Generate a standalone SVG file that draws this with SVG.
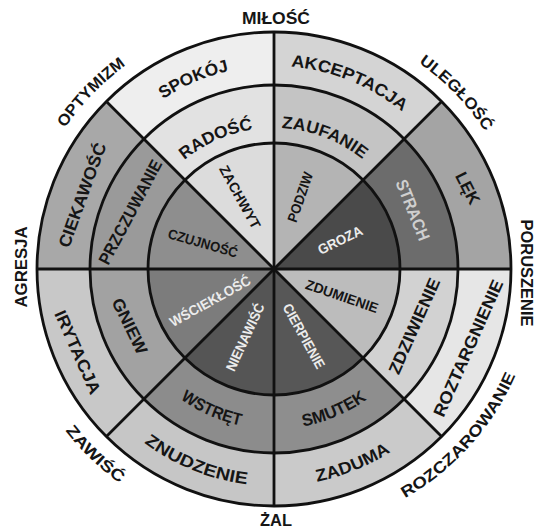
<svg xmlns="http://www.w3.org/2000/svg" xmlns:xlink="http://www.w3.org/1999/xlink" width="536" height="532" viewBox="0 0 536 532">
<defs>
<style>
text{font-family:"Liberation Sans","DejaVu Sans",sans-serif;font-weight:bold;fill:#151515;}
.o{font-size:16px;}
.r{font-size:17px;}
.i{font-size:14px;}
.lt{fill:#ececec;}
.lg{fill:#cfcfcf;}
.ln{fill:none;stroke:#111;stroke-width:2.8;}
</style>
<path id="t252" d="M55.8,143 A252,252 0 0 1 492.2,143"/>
<path id="t203" d="M98.2,167.5 A203,203 0 0 1 449.8,167.5"/>
<path id="t141" d="M151.9,198.5 A141,141 0 0 1 396.1,198.5"/>
<path id="b264" d="M45.4,401 A264,264 0 0 0 502.6,401"/>
<path id="b217" d="M86.1,377.5 A217,217 0 0 0 461.9,377.5"/>
<path id="b160" d="M135.4,349 A160,160 0 0 0 412.6,349"/>
</defs>
<rect width="536" height="532" fill="#ffffff"/>

<g id="podziw"><path d="M274,269 L274,143 A126,126 0 0 1 363.1,179.9 Z" fill="#b4b4b4"/>
<text class="i" x="300" y="197" dy="0.36em" text-anchor="middle" transform="rotate(-71 300 197)" textLength="52" lengthAdjust="spacingAndGlyphs">PODZIW</text></g>
<g id="groza"><path d="M274,269 L363.1,179.9 A126,126 0 0 1 400,269 Z" fill="#4a4a4a"/>
<text class="i lt" x="340" y="240" dy="0.36em" text-anchor="middle" transform="rotate(-26 340 240)" textLength="48" lengthAdjust="spacingAndGlyphs">GROZA</text></g>
<g id="zdumienie"><path d="M274,269 L400,269 A126,126 0 0 1 363.1,358.1 Z" fill="#bcbcbc"/>
<text class="i" x="342" y="296" dy="0.36em" text-anchor="middle" transform="rotate(19 342 296)" textLength="76" lengthAdjust="spacingAndGlyphs">ZDUMIENIE</text></g>
<g id="cierpienie"><path d="M274,269 L363.1,358.1 A126,126 0 0 1 274,395 Z" fill="#575757"/>
<text class="i lt" x="304" y="336" dy="0.36em" text-anchor="middle" transform="rotate(61 304 336)" textLength="72" lengthAdjust="spacingAndGlyphs">CIERPIENIE</text></g>
<g id="nienawisc"><path d="M274,269 L274,395 A126,126 0 0 1 184.9,358.1 Z" fill="#555555"/>
<text class="i lt" x="245" y="337" dy="0.36em" text-anchor="middle" transform="rotate(-65 245 337)" textLength="73" lengthAdjust="spacingAndGlyphs">NIENAWIŚĆ</text></g>
<g id="wsciekl"><path d="M274,269 L184.9,358.1 A126,126 0 0 1 148,269 Z" fill="#7c7c7c"/>
<text class="i lt" x="210" y="301" dy="0.36em" text-anchor="middle" transform="rotate(-29 210 301)" textLength="90" lengthAdjust="spacingAndGlyphs">WŚCIEKŁOŚĆ</text></g>
<g id="czujnosc"><path d="M274,269 L148,269 A126,126 0 0 1 184.9,179.9 Z" fill="#8e8e8e"/>
<text class="i" x="203" y="243" dy="0.36em" text-anchor="middle" transform="rotate(16 203 243)" textLength="72" lengthAdjust="spacingAndGlyphs">CZUJNOŚĆ</text></g>
<g id="zachwyt"><path d="M274,269 L184.9,179.9 A126,126 0 0 1 274,143 Z" fill="#dcdcdc"/>
<text class="i" x="240" y="197" dy="0.36em" text-anchor="middle" transform="rotate(61 240 197)" textLength="70" lengthAdjust="spacingAndGlyphs">ZACHWYT</text></g>

<g id="zaufanie"><path d="M274,143 A126,126 0 0 1 363.1,179.9 L404.1,138.9 A184,184 0 0 0 274,85 Z" fill="#c4c4c4"/>
<text class="r" transform="rotate(21 274 269)"><textPath xlink:href="#t141" href="#t141" startOffset="50%" text-anchor="middle" textLength="88" lengthAdjust="spacingAndGlyphs">ZAUFANIE</textPath></text></g>
<g id="strach"><path d="M363.1,179.9 A126,126 0 0 1 400,269 L458,269 A184,184 0 0 0 404.1,138.9 Z" fill="#6c6c6c"/>
<text class="r lg" x="413" y="210" dy="0.36em" text-anchor="middle" transform="rotate(68 413 210)" textLength="64" lengthAdjust="spacingAndGlyphs">STRACH</text></g>
<g id="zdziwienie"><path d="M400,269 A126,126 0 0 1 363.1,358.1 L404.1,399.1 A184,184 0 0 0 458,269 Z" fill="#d2d2d2"/>
<text class="r" x="414" y="326" dy="0.36em" text-anchor="middle" transform="rotate(-66 414 326)" textLength="103" lengthAdjust="spacingAndGlyphs">ZDZIWIENIE</text></g>
<g id="smutek"><path d="M363.1,358.1 A126,126 0 0 1 274,395 L274,453 A184,184 0 0 0 404.1,399.1 Z" fill="#8e8e8e"/>
<text class="r" transform="rotate(-23 274 269)"><textPath xlink:href="#b160" href="#b160" startOffset="50%" text-anchor="middle" textLength="70" lengthAdjust="spacingAndGlyphs">SMUTEK</textPath></text></g>
<g id="wstret"><path d="M274,395 A126,126 0 0 1 184.9,358.1 L143.9,399.1 A184,184 0 0 0 274,453 Z" fill="#8c8c8c"/>
<text class="r" transform="rotate(24 274 269)"><textPath xlink:href="#b160" href="#b160" startOffset="50%" text-anchor="middle" textLength="66" lengthAdjust="spacingAndGlyphs">WSTRĘT</textPath></text></g>
<g id="gniew"><path d="M184.9,358.1 A126,126 0 0 1 148,269 L90,269 A184,184 0 0 0 143.9,399.1 Z" fill="#a2a2a2"/>
<text class="r" x="130" y="326" dy="0.36em" text-anchor="middle" transform="rotate(64 130 326)" textLength="60" lengthAdjust="spacingAndGlyphs">GNIEW</text></g>
<g id="przczuwanie"><path d="M148,269 A126,126 0 0 1 184.9,179.9 L143.9,138.9 A184,184 0 0 0 90,269 Z" fill="#9a9a9a"/>
<text class="r" x="130" y="212" dy="0.36em" text-anchor="middle" transform="rotate(-62 130 212)" textLength="116" lengthAdjust="spacingAndGlyphs">PRZCZUWANIE</text></g>
<g id="radosc"><path d="M184.9,179.9 A126,126 0 0 1 274,143 L274,85 A184,184 0 0 0 143.9,138.9 Z" fill="#e2e2e2"/>
<text class="r" transform="rotate(-24 274 269)"><textPath xlink:href="#t141" href="#t141" startOffset="50%" text-anchor="middle" textLength="76" lengthAdjust="spacingAndGlyphs">RADOŚĆ</textPath></text></g>

<g id="akceptacja"><path d="M274,85 A184,184 0 0 1 404.1,138.9 L441.6,101.4 A237,237 0 0 0 274,32 Z" fill="#d4d4d4"/>
<text class="r" transform="rotate(22 274 269)"><textPath xlink:href="#t203" href="#t203" startOffset="50%" text-anchor="middle" textLength="122" lengthAdjust="spacingAndGlyphs">AKCEPTACJA</textPath></text></g>
<g id="lek"><path d="M404.1,138.9 A184,184 0 0 1 458,269 L511,269 A237,237 0 0 0 441.6,101.4 Z" fill="#a4a4a4"/>
<text class="r" x="468" y="188" dy="0.36em" text-anchor="middle" transform="rotate(63 468 188)" textLength="34" lengthAdjust="spacingAndGlyphs">LĘK</text></g>
<g id="roztargnienie"><path d="M458,269 A184,184 0 0 1 404.1,399.1 L441.6,436.6 A237,237 0 0 0 511,269 Z" fill="#e6e6e6"/>
<text class="r" x="468" y="348" dy="0.36em" text-anchor="middle" transform="rotate(-66 468 348)" textLength="148" lengthAdjust="spacingAndGlyphs">ROZTARGNIENIE</text></g>
<g id="zaduma"><path d="M404.1,399.1 A184,184 0 0 1 274,453 L274,506 A237,237 0 0 0 441.6,436.6 Z" fill="#cacaca"/>
<text class="r" transform="rotate(-22 274 269)"><textPath xlink:href="#b217" href="#b217" startOffset="50%" text-anchor="middle" textLength="80" lengthAdjust="spacingAndGlyphs">ZADUMA</textPath></text></g>
<g id="znudzenie"><path d="M274,453 A184,184 0 0 1 143.9,399.1 L106.4,436.6 A237,237 0 0 0 274,506 Z" fill="#c6c6c6"/>
<text class="r" transform="rotate(22 274 269)"><textPath xlink:href="#b217" href="#b217" startOffset="50%" text-anchor="middle" textLength="112" lengthAdjust="spacingAndGlyphs">ZNUDZENIE</textPath></text></g>
<g id="irytacja"><path d="M143.9,399.1 A184,184 0 0 1 90,269 L37,269 A237,237 0 0 0 106.4,436.6 Z" fill="#c8c8c8"/>
<text class="r" x="78" y="352" dy="0.36em" text-anchor="middle" transform="rotate(66 78 352)" textLength="90" lengthAdjust="spacingAndGlyphs">IRYTACJA</text></g>
<g id="ciekawosc"><path d="M90,269 A184,184 0 0 1 143.9,138.9 L106.4,101.4 A237,237 0 0 0 37,269 Z" fill="#a8a8a8"/>
<text class="r" x="82" y="195" dy="0.36em" text-anchor="middle" transform="rotate(-70 82 195)" textLength="110" lengthAdjust="spacingAndGlyphs">CIEKAWOŚĆ</text></g>
<g id="spokoj"><path d="M143.9,138.9 A184,184 0 0 1 274,85 L274,32 A237,237 0 0 0 106.4,101.4 Z" fill="#eeeeee"/>
<text class="r" transform="rotate(-23 274 269)"><textPath xlink:href="#t203" href="#t203" startOffset="50%" text-anchor="middle" textLength="72" lengthAdjust="spacingAndGlyphs">SPOKÓJ</textPath></text></g>

<g id="connectors">
<circle class="ln" cx="274" cy="269" r="126"/>
<circle class="ln" cx="274" cy="269" r="184"/>
<circle class="ln" cx="274" cy="269" r="237" stroke-width="3.2"/>
<line class="ln" x1="274" y1="32" x2="274" y2="506"/>
<line class="ln" x1="37" y1="269" x2="511" y2="269"/>
<line class="ln" x1="441.6" y1="101.4" x2="106.4" y2="436.6"/>
<line class="ln" x1="106.4" y1="101.4" x2="441.6" y2="436.6"/>
</g>

<g id="outer-labels">
<text class="o" x="276" y="24" text-anchor="middle" textLength="68" lengthAdjust="spacingAndGlyphs">MIŁOŚĆ</text>
<text class="o" transform="rotate(46 274 269)"><textPath xlink:href="#t252" href="#t252" startOffset="50%" text-anchor="middle" textLength="96" lengthAdjust="spacingAndGlyphs">ULEGŁOŚĆ</textPath></text>
<text class="o" x="527" y="273" dy="0.36em" text-anchor="middle" transform="rotate(90 527 273)" textLength="107" lengthAdjust="spacingAndGlyphs">PORUSZENIE</text>
<text class="o" transform="rotate(-48 274 269)"><textPath xlink:href="#b264" href="#b264" startOffset="50%" text-anchor="middle" textLength="168" lengthAdjust="spacingAndGlyphs">ROZCZAROWANIE</textPath></text>
<text class="o" x="276" y="526" text-anchor="middle" textLength="32" lengthAdjust="spacingAndGlyphs">ŻAL</text>
<text class="o" transform="rotate(44 274 269)"><textPath xlink:href="#b264" href="#b264" startOffset="50%" text-anchor="middle" textLength="76" lengthAdjust="spacingAndGlyphs">ZAWIŚĆ</textPath></text>
<text class="o" x="21" y="267" dy="0.36em" text-anchor="middle" transform="rotate(-90 21 267)" textLength="81" lengthAdjust="spacingAndGlyphs">AGRESJA</text>
<text class="o" transform="rotate(-46 274 269)"><textPath xlink:href="#t252" href="#t252" startOffset="50%" text-anchor="middle" textLength="88" lengthAdjust="spacingAndGlyphs">OPTYMIZM</textPath></text>
</g>
</svg>
